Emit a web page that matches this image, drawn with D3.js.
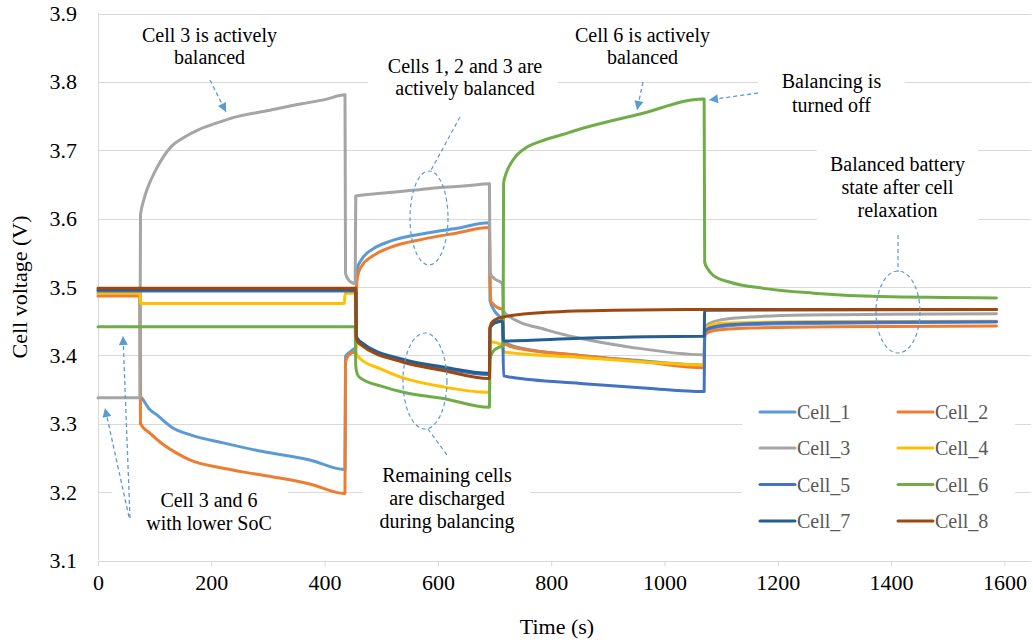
<!DOCTYPE html>
<html><head><meta charset="utf-8">
<script src="https://cdn.jsdelivr.net/npm/d3@7"></script>
<style>
body{margin:0;background:#fff;}
svg text{font-family:"Liberation Serif","Times New Roman",serif;}
</style>
</head><body>
<script>
// ---------------- DATA ----------------
const xTicks = [0, 200, 400, 600, 800, 1000, 1200, 1400, 1600];
const yTicks = [3.1, 3.2, 3.3, 3.4, 3.5, 3.6, 3.7, 3.8, 3.9];
const cellNames = ["Cell_1", "Cell_2", "Cell_3", "Cell_4", "Cell_5", "Cell_6", "Cell_7", "Cell_8"];

// [time (s), voltage (V)]
const cell1 = [[0,3.491],[74,3.491],[75,3.34],[78,3.337],[90,3.322],[104,3.313],[130,3.295],[162,3.284],[221,3.272],[281,3.261],[374,3.247],[435,3.233],[436,3.233],[437,3.398],[445,3.405],[454,3.41],[455,3.41],[456,3.50],[458,3.528],[465,3.54],[486,3.556],[516,3.567],[574,3.578],[634,3.586],[690,3.594],[691,3.594],[692,3.48],[700,3.465],[714,3.45],[716,3.42],[750,3.41],[850,3.40],[950,3.393],[1069,3.386],[1070,3.386],[1071,3.435],[1085,3.44],[1150,3.445],[1300,3.447],[1586,3.449]];
const cell2 = [[0,3.487],[74,3.487],[75,3.30],[92,3.286],[110,3.273],[139,3.257],[162,3.247],[221,3.235],[281,3.226],[374,3.212],[435,3.198],[436,3.198],[437,3.39],[442,3.40],[454,3.405],[455,3.405],[456,3.49],[458,3.515],[465,3.53],[486,3.546],[516,3.558],[574,3.57],[634,3.579],[690,3.587],[691,3.587],[692,3.515],[694,3.478],[714,3.468],[715,3.468],[716,3.418],[733,3.412],[851,3.40],[970,3.39],[1069,3.382],[1070,3.382],[1071,3.43],[1085,3.436],[1150,3.44],[1300,3.442],[1586,3.443]];
const cell3 = [[0,3.338],[74,3.338],[75,3.605],[80,3.625],[90,3.65],[100,3.668],[115,3.69],[130,3.706],[150,3.718],[180,3.731],[210,3.740],[240,3.748],[300,3.758],[360,3.768],[400,3.774],[436,3.781],[437,3.52],[441,3.512],[447,3.507],[454,3.505],[455,3.633],[500,3.637],[550,3.641],[600,3.645],[650,3.648],[691,3.651],[692,3.52],[700,3.512],[714,3.505],[716,3.465],[722,3.459],[793,3.437],[851,3.425],[940,3.412],[1069,3.401],[1070,3.401],[1071,3.44],[1080,3.447],[1100,3.452],[1150,3.456],[1250,3.459],[1400,3.46],[1586,3.461]];
const cell4 = [[0,3.491],[74,3.491],[75,3.476],[435,3.476],[436,3.491],[454,3.491],[455,3.405],[463,3.395],[500,3.38],[539,3.367],[609,3.354],[690,3.346],[691,3.346],[692,3.42],[714,3.415],[716,3.405],[851,3.397],[970,3.39],[1069,3.386],[1070,3.386],[1071,3.44],[1100,3.447],[1250,3.449],[1586,3.45]];
const cell5 = [[0,3.494],[454,3.494],[455,3.494],[456,3.426],[463,3.418],[539,3.392],[609,3.381],[690,3.372],[691,3.372],[692,3.44],[700,3.447],[714,3.45],[716,3.37],[730,3.368],[851,3.359],[970,3.352],[1069,3.347],[1070,3.347],[1071,3.435],[1080,3.44],[1120,3.445],[1250,3.448],[1586,3.449]];
const cell6 = [[0,3.442],[454,3.442],[455,3.385],[458,3.372],[463,3.367],[500,3.355],[539,3.346],[609,3.337],[690,3.324],[691,3.324],[692,3.395],[700,3.408],[714,3.413],[715,3.413],[716,3.652],[720,3.665],[733,3.686],[758,3.705],[781,3.713],[820,3.723],[851,3.731],[957,3.753],[1069,3.775],[1070,3.775],[1071,3.536],[1076,3.527],[1086,3.517],[1116,3.507],[1175,3.498],[1263,3.491],[1381,3.486],[1586,3.484]];
const cell7 = [[0,3.496],[454,3.496],[455,3.496],[456,3.428],[463,3.42],[539,3.394],[609,3.383],[690,3.374],[691,3.374],[692,3.44],[700,3.448],[714,3.45],[716,3.421],[851,3.425],[1069,3.428],[1070,3.428],[1071,3.466],[1586,3.467]];
const cell8 = [[0,3.498],[454,3.498],[455,3.498],[456,3.424],[463,3.416],[539,3.39],[609,3.378],[690,3.366],[691,3.366],[692,3.441],[696,3.449],[715,3.456],[793,3.463],[910,3.466],[1069,3.467],[1586,3.467]];

const annoCell3 = ["Cell 3 is actively", "balanced"];
const annoCells123 = ["Cells 1, 2 and 3 are", "actively balanced"];
const annoCell6 = ["Cell 6 is actively", "balanced"];
const annoOff = ["Balancing is", "turned off"];
const annoBalanced = ["Balanced battery", "state after cell", "relaxation"];
const annoRemaining = ["Remaining cells", "are discharged", "during balancing"];
const annoLowSoC = ["Cell 3 and 6", "with lower SoC"];

// ---------------- CHART ----------------
const FONT = "'Liberation Serif', 'Times New Roman', serif";
const series = [cell1, cell2, cell3, cell4, cell5, cell6, cell7, cell8];
const colors = ["#5B9BD5", "#ED7D31", "#A5A5A5", "#FFC000", "#4472C4", "#70AD47", "#255E91", "#9E480E"];
const W = 1033, H = 642;
const x = d3.scaleLinear().domain([0, 1647]).range([98, 1031]);
const y = d3.scaleLinear().domain([3.1, 3.9]).range([560.5, 13.5]);
const grid = "#d9d9d9";
const annoColor = "#5B9BD5";

const svg = d3.select("body").append("svg").attr("width", W).attr("height", H)
  .attr("font-family", FONT);
svg.append("rect").attr("width", W).attr("height", H).attr("fill", "#fff");

const defs = svg.append("defs");
defs.append("marker").attr("id", "ah").attr("viewBox", "0 0 10 10")
  .attr("refX", 10).attr("refY", 5).attr("markerWidth", 11).attr("markerHeight", 9)
  .attr("markerUnits", "userSpaceOnUse").attr("orient", "auto")
  .append("path").attr("d", "M0,0L10,5L0,10z").attr("fill", annoColor);

// gridlines
svg.append("g").selectAll("line").data(yTicks.filter(d => d > 3.1)).join("line")
  .attr("x1", x.range()[0]).attr("x2", x.range()[1])
  .attr("y1", d => Math.round(y(d)) + 0.5).attr("y2", d => Math.round(y(d)) + 0.5)
  .attr("stroke", grid).attr("stroke-width", 1);

// y axis line
svg.append("line").attr("x1", 98.5).attr("x2", 98.5).attr("y1", y(3.9)).attr("y2", y(3.1))
  .attr("stroke", grid);

// x axis
const xAxis = d3.axisBottom(x).tickValues(xTicks).tickSize(5).tickPadding(8).tickFormat(d3.format("d"));
const gx = svg.append("g").attr("transform", `translate(0,${Math.round(y(3.1)) + 0.5})`).call(xAxis);
gx.attr("font-family", FONT);
gx.select(".domain").attr("stroke", grid).attr("d", `M${x.range()[0]},0H${x.range()[1]}`);
gx.selectAll(".tick line").attr("stroke", grid);
gx.selectAll(".tick text").attr("fill", "#000").attr("font-size", 22);

// y axis labels
const yAxis = d3.axisLeft(y).tickValues(yTicks).tickSize(0).tickPadding(21).tickFormat(d3.format(".1f"));
const gy = svg.append("g").attr("transform", `translate(98,0)`).call(yAxis);
gy.attr("font-family", FONT);
gy.select(".domain").remove();
gy.selectAll(".tick text").attr("fill", "#000").attr("font-size", 22);

// axis titles
svg.append("text").attr("x", 557).attr("y", 634).attr("text-anchor", "middle")
  .attr("font-size", 22).text("Time (s)");
svg.append("text").attr("transform", "translate(27,287) rotate(-90)").attr("text-anchor", "middle")
  .attr("font-size", 22).text("Cell voltage (V)");

// white text boxes (cover gridlines)
const boxes = [[368, 60, 190, 46], [758, 66, 147, 56], [817, 140, 161, 88], [363, 462, 167, 76], [112, 488, 176, 50], [742, 393, 273, 146]];
svg.append("g").selectAll("rect").data(boxes).join("rect")
  .attr("x", d => d[0]).attr("y", d => d[1]).attr("width", d => d[2]).attr("height", d => d[3])
  .attr("fill", "#fff");

// series
const line = d3.line().x(d => x(d[0])).y(d => y(d[1])).curve(d3.curveMonotoneX);
svg.append("g").selectAll("path").data(series).join("path")
  .attr("d", line).attr("fill", "none")
  .attr("stroke", (d, i) => colors[i]).attr("stroke-width", 3)
  .attr("stroke-linejoin", "round").attr("stroke-linecap", "round");

// legend
const lg = svg.append("g");
cellNames.forEach((n, i) => {
  const col = i % 2, row = Math.floor(i / 2);
  const lx = col === 0 ? 760 : 898;
  const ly = [412, 448, 484.5, 521][row];
  lg.append("line").attr("x1", lx).attr("x2", lx + 35).attr("y1", ly).attr("y2", ly)
    .attr("stroke", colors[i]).attr("stroke-width", 3).attr("stroke-linecap", "round");
  lg.append("text").attr("x", lx + 37).attr("y", ly + 7).attr("font-size", 20)
    .attr("fill", "#595959").text(n);
});

// annotation texts
function multi(lines, cx, y0, dy) {
  const t = svg.append("text").attr("text-anchor", "middle").attr("font-size", 20).attr("fill", "#000");
  lines.forEach((s, i) => t.append("tspan").attr("x", cx).attr("y", y0 + i * dy).text(s));
}
multi(annoCell3, 209.5, 42, 21.5);
multi(annoCells123, 465, 73, 22);
multi(annoCell6, 642.5, 42, 21.5);
multi(annoOff, 831.5, 88, 24);
multi(annoBalanced, 897.5, 171, 23);
multi(annoRemaining, 447, 482, 23);
multi(annoLowSoC, 209, 507, 23);

// arrows and dashed leaders
const dash = "4,3";
const arrows = [[210, 80, 226, 112], [643, 82, 637, 110], [758, 93, 709, 100], [130, 518, 123, 336], [129, 517, 105, 408]];
svg.append("g").selectAll("line").data(arrows).join("line")
  .attr("x1", d => d[0]).attr("y1", d => d[1]).attr("x2", d => d[2]).attr("y2", d => d[3])
  .attr("stroke", annoColor).attr("stroke-width", 1.3).attr("stroke-dasharray", dash)
  .attr("marker-end", "url(#ah)");
const leaders = [[460, 117, 430, 172], [428, 429, 447, 455], [898, 235, 898, 272]];
svg.append("g").selectAll("line").data(leaders).join("line")
  .attr("x1", d => d[0]).attr("y1", d => d[1]).attr("x2", d => d[2]).attr("y2", d => d[3])
  .attr("stroke", annoColor).attr("stroke-width", 1.2).attr("stroke-dasharray", dash);
const ellipses = [[429, 218, 19, 47], [425, 381, 22, 48], [898, 312, 22, 41]];
svg.append("g").selectAll("ellipse").data(ellipses).join("ellipse")
  .attr("cx", d => d[0]).attr("cy", d => d[1]).attr("rx", d => d[2]).attr("ry", d => d[3])
  .attr("fill", "none").attr("stroke", annoColor).attr("stroke-width", 1.2).attr("stroke-dasharray", dash);
</script>
</body></html>
